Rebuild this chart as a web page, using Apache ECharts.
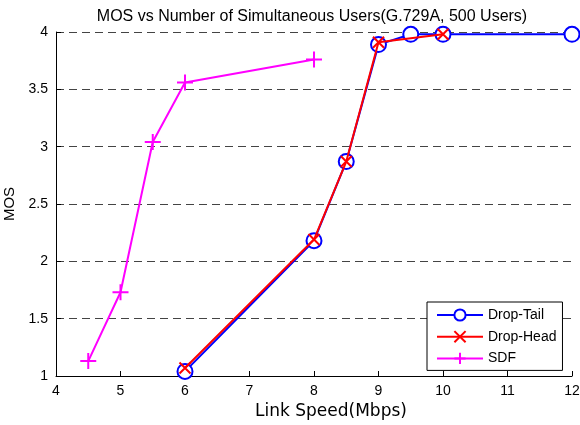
<!DOCTYPE html>
<html>
<head>
<meta charset="utf-8">
<script src="https://cdn.jsdelivr.net/npm/echarts@6/dist/echarts.min.js"></script>
<style>html,body{margin:0;padding:0;background:#fff;}#c{width:580px;height:425px;}</style>
</head>
<body>
<div id="c"></div>
<script>
var titleText = 'MOS vs Number of Simultaneous Users(G.729A, 500 Users)';
var xName = 'Link Speed(Mbps)';
var yName = 'MOS';
var seriesNames = ['Drop-Tail', 'Drop-Head', 'SDF'];
var dropTailX = [6, 8, 8.5, 9, 9.5, 10, 12];
var dropTailY = [1.04, 2.18, 2.87, 3.89, 3.98, 3.98, 3.98];
var dropHeadX = [6, 8, 8.5, 9, 10];
var dropHeadY = [1.07, 2.19, 2.87, 3.91, 3.98];
var sdfX = [4.5, 5, 5.5, 6, 8];
var sdfY = [1.13, 1.73, 3.04, 3.56, 3.76];

function pairs(xs, ys) { return xs.map(function (x, i) { return [x, ys[i]]; }); }

var FONT = 'Liberation Sans, Arial, sans-serif';
var chart = echarts.init(document.getElementById('c'), null, {renderer: 'canvas'});
var crossPath = 'path://M0,0L10,10M10,0L0,10';
var plusPath = 'path://M5,0L5,10M0,5L10,5';

chart.setOption({
  animation: false,
  backgroundColor: '#fff',
  title: {
    text: titleText, left: 307, top: 4, textAlign: 'center',
    textStyle: {fontFamily: FONT, fontSize: 16, fontWeight: 'normal', color: '#000'}
  },
  grid: {left: 56, right: 8, top: 32, bottom: 49, containLabel: false, outerBoundsMode: 'none'},
  legend: {
    orient: 'vertical', left: 427, top: 302,
    padding: [6, 6, 5, 9], itemGap: 7.7, itemWidth: 46, itemHeight: 14,
    borderColor: '#000', borderWidth: 1, backgroundColor: '#fff', borderRadius: 0,
    textStyle: {fontFamily: FONT, fontSize: 14, color: '#000'},
    data: seriesNames
  },
  xAxis: {
    type: 'value', min: 4, max: 12, interval: 1,
    name: xName, nameLocation: 'middle', nameGap: 27,
    nameTextStyle: {fontFamily: 'DejaVu Sans, sans-serif', fontSize: 17, color: '#000', padding: [0, 0, 0, 34]},
    axisLine: {show: true, lineStyle: {color: '#000', width: 1}},
    axisTick: {show: true, inside: true, length: 5, lineStyle: {color: '#000'}},
    axisLabel: {fontFamily: FONT, fontSize: 14, color: '#000', margin: 8},
    splitLine: {show: false}
  },
  yAxis: {
    type: 'value', min: 1, max: 4, interval: 0.5,
    name: yName, nameLocation: 'middle', nameGap: 36,
    nameTextStyle: {fontFamily: FONT, fontSize: 15, color: '#000'},
    axisLine: {show: true, lineStyle: {color: '#000', width: 1}},
    axisTick: {show: true, inside: true, length: 5, lineStyle: {color: '#000'}},
    axisLabel: {fontFamily: FONT, fontSize: 14, color: '#000', margin: 8},
    splitLine: {show: true, lineStyle: {color: '#444', width: 1, type: [8, 5]}}
  },
  series: [
    {
      name: seriesNames[0], type: 'line', data: pairs(dropTailX, dropTailY),
      symbol: 'emptyCircle', symbolSize: 15, showAllSymbol: true,
      lineStyle: {color: '#0000ff', width: 2},
      itemStyle: {color: '#0000ff', borderColor: '#0000ff', borderWidth: 2}, z: 2
    },
    {
      name: seriesNames[1], type: 'line', data: pairs(dropHeadX, dropHeadY),
      symbol: crossPath, symbolSize: 11, showAllSymbol: true,
      lineStyle: {color: '#ff0000', width: 2},
      itemStyle: {color: '#ff0000', borderColor: '#ff0000', borderWidth: 2}, z: 3
    },
    {
      name: seriesNames[2], type: 'line', data: pairs(sdfX, sdfY),
      symbol: plusPath, symbolSize: 16, showAllSymbol: true,
      lineStyle: {color: '#ff00ff', width: 2},
      itemStyle: {color: '#ff00ff', borderColor: '#ff00ff', borderWidth: 2}, z: 4
    }
  ]
});
</script>
</body>
</html>
